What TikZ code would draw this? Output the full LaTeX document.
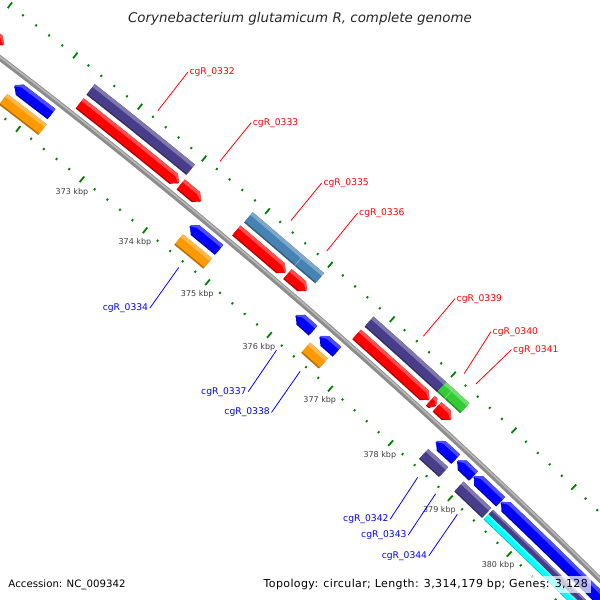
\documentclass[tikz,border=0pt]{standalone}
\usepackage{fontspec}
\setmainfont{DejaVu Sans}[ItalicFont={DejaVu Sans Oblique}]
\usetikzlibrary{positioning}

\definecolor{cgred}{RGB}{255,0,0}
\definecolor{cgblue}{RGB}{0,0,255}
\definecolor{cgpurple}{RGB}{72,61,139}
\definecolor{cgsteel}{RGB}{70,130,180}
\definecolor{cgorange}{RGB}{255,153,0}
\definecolor{cggreen}{RGB}{50,205,50}
\definecolor{cgcyan}{RGB}{0,255,255}
\definecolor{tickgreen}{RGB}{0,128,0}
\definecolor{bbgray}{RGB}{140,140,140}
\definecolor{bblight}{RGB}{185,185,185}
\definecolor{kbpgray}{RGB}{60,60,60}

% angle of a map position given in kbp
\newcommand{\kang}[1]{51.39-0.7614*(#1-373)}

% one filled shape: colour, kind (0 box, 1 forward, 2 reverse), inner r, outer r
\newcommand{\fshape}[4]{%
  \pgfmathsetmacro\rM{(#3+#4)/2}%
  \ifcase#2\relax
    \fill[#1] (\aS:#3) -- (\aS:#4) arc[start angle=\aS,end angle=\aE,radius=#4]
      -- (\aE:#3) arc[start angle=\aE,end angle=\aS,radius=#3] -- cycle;
  \or
    \fill[#1] (\aS:#3) -- (\aS:#4) arc[start angle=\aS,end angle=\aH,radius=#4]
      -- (\aE:\rM) -- (\aH:#3) arc[start angle=\aH,end angle=\aS,radius=#3] -- cycle;
  \or
    \fill[#1] (\aS:\rM) -- (\aH:#4) arc[start angle=\aH,end angle=\aE,radius=#4]
      -- (\aE:#3) arc[start angle=\aE,end angle=\aH,radius=#3] -- cycle;
  \fi}

% a feature: kind, from, to (kbp), inner and outer offset from the backbone, colour
\newcommand{\feat}[6]{%
  \pgfmathsetmacro\aS{\kang{#2}}%
  \pgfmathsetmacro\aE{\kang{#3}}%
  \pgfmathsetmacro\hd{min(0.06,(\aS-\aE)*0.5)}%
  \ifnum#1=1 \pgfmathsetmacro\aH{\aE+\hd}\else\pgfmathsetmacro\aH{\aS-\hd}\fi
  \pgfmathsetmacro\rI{6157+(#4)}%
  \pgfmathsetmacro\rO{6157+(#5)}%
  \pgfmathsetmacro\rA{\rI+0.14*(\rO-\rI)}%
  \pgfmathsetmacro\rB{\rO-0.28*(\rO-\rI)}%
  \fshape{#6!72!black}{#1}{\rI}{\rO}%
  \fshape{#6!70!white}{#1}{\rA}{\rO}%
  \fshape{#6}{#1}{\rA}{\rB}}

\begin{document}
\begin{tikzpicture}[x=1pt,y=1pt,
  tickmark/.style={draw=tickgreen, line width=1.8pt},
  seam/.style={line width=0.6pt},
  kbplabel/.style={font=\fontsize{8}{8}\selectfont, text=kbpgray, inner sep=0pt},
  fwdlabel/.style={font=\fontsize{9.2}{9.2}\selectfont, text=cgred, inner sep=1.5pt, anchor=base west},
  revlabel/.style={font=\fontsize{9.2}{9.2}\selectfont, text=cgblue, inner sep=1.5pt, anchor=base east},
  fwdleader/.style={draw=cgred, line width=0.8pt},
  revleader/.style={draw=cgblue, line width=0.8pt},
  info/.style={inner sep=0pt}]
\useasboundingbox (0,0) rectangle (600,-600);
\clip (0,0) rectangle (600,-600);

\begin{scope}[shift={(-3731.8,-4955)}]
  % backbone
  \draw[line width=5.5pt, draw=bbgray] (53.8:6157) arc[start angle=53.8,end angle=44,radius=6157];
  \draw[line width=1.6pt, draw=bblight] (53.8:6158) arc[start angle=53.8,end angle=44,radius=6158];
  % ticks, every 200 bp
  \foreach \i in {1852,...,1912}{%
    \pgfmathsetmacro\a{\kang{\i/5}}%
    \pgfmathsetmacro\h{mod(\i,5)==0 ? 3.6 : 1.1}%
    \pgfmathsetmacro\ra{6205-\h}\pgfmathsetmacro\rb{6205+\h}%
    \pgfmathsetmacro\rc{6112-\h}\pgfmathsetmacro\rd{6112+\h}%
    \draw[tickmark] (\a:\ra) -- (\a:\rb);
    \draw[tickmark] (\a:\rc) -- (\a:\rd);
  }
  % forward strand
  \feat{1}{369.5}{371.23}{6.5}{19.5}{cgred}
  \feat{1}{372.40}{373.95}{6.5}{19.5}{cgred}
  \feat{1}{373.98}{374.30}{6.5}{19.5}{cgred}
  \feat{1}{374.86}{375.65}{6.5}{19.5}{cgred}
  \feat{1}{375.68}{375.99}{6.5}{19.5}{cgred}
  \feat{1}{376.80}{377.99}{6.5}{19.5}{cgred}
  \feat{1}{378.01}{378.10}{6.5}{19.5}{cgred}
  \feat{1}{378.12}{378.35}{6.5}{19.5}{cgred}
  \feat{0}{372.40}{373.96}{24}{37.5}{cgpurple}
  \feat{0}{374.87}{375.68}{24}{37.5}{cgsteel}
  \feat{0}{375.68}{376.01}{24}{37.5}{cgsteel}
  \feat{0}{376.81}{378.00}{24}{37.5}{cgpurple}
  \feat{0}{378.00}{378.12}{24}{37.5}{cggreen}
  \feat{0}{378.12}{378.38}{24}{37.5}{cggreen}
  \pgfmathsetmacro\a{\kang{375.68}}
  \draw[seam, cgsteel!60!white] (\a:6181) -- (\a:6194.5);
  \pgfmathsetmacro\a{\kang{378.12}}
  \draw[seam, cggreen!60!white] (\a:6181) -- (\a:6194.5);
  % reverse strand
  \feat{2}{371.64}{372.21}{-19.5}{-6.5}{cgblue}
  \feat{2}{374.39}{374.85}{-19.5}{-6.5}{cgblue}
  \feat{2}{376.09}{376.37}{-19.5}{-6.5}{cgblue}
  \feat{2}{376.48}{376.76}{-19.5}{-6.5}{cgblue}
  \feat{2}{378.40}{378.72}{-19.5}{-6.5}{cgblue}
  \feat{2}{378.75}{379.02}{-19.5}{-6.5}{cgblue}
  \feat{2}{379.03}{379.48}{-19.5}{-6.5}{cgblue}
  \feat{2}{379.49}{382.5}{-19.5}{-6.5}{cgblue}
  \feat{0}{371.63}{372.24}{-37.5}{-24}{cgorange}
  \feat{0}{374.39}{374.85}{-37.5}{-24}{cgorange}
  \feat{0}{376.44}{376.73}{-37.5}{-24}{cgorange}
  \feat{0}{378.39}{378.72}{-37.5}{-24}{cgpurple}
  \feat{0}{378.98}{379.45}{-37.5}{-24}{cgpurple}
  \feat{0}{379.48}{382.5}{-30.5}{-24}{cgpurple}
  \feat{0}{379.48}{382.5}{-37.5}{-30.5}{cgcyan}
  % kbp labels
  \foreach \k in {373,...,380}
    \node[kbplabel] (kbp\k) at ({\kang{\k}}:6096) {\k\ kbp};
  % leader ends
  \coordinate (g0332) at ({\kang{373.20}}:6213);
  \coordinate (g0333) at ({\kang{374.17}}:6213);
  \coordinate (g0335) at ({\kang{375.29}}:6213);
  \coordinate (g0336) at ({\kang{375.86}}:6213);
  \coordinate (g0339) at ({\kang{377.42}}:6213);
  \coordinate (g0340) at ({\kang{378.09}}:6213);
  \coordinate (g0341) at ({\kang{378.28}}:6213);
  \coordinate (g0334) at ({\kang{374.61}}:6105);
  \coordinate (g0337) at ({\kang{376.19}}:6105);
  \coordinate (g0338) at ({\kang{376.58}}:6105);
  \coordinate (g0342) at ({\kang{378.53}}:6105);
  \coordinate (g0343) at ({\kang{378.83}}:6105);
  \coordinate (g0344) at ({\kang{379.20}}:6105);
\end{scope}

% gene labels
\node[fwdlabel] (l0332) at (187.8,-74.5) {cgR\_0332};
\node[fwdlabel] (l0333) at (251.2,-125) {cgR\_0333};
\node[fwdlabel] (l0335) at (321.8,-185.2) {cgR\_0335};
\node[fwdlabel] (l0336) at (357.5,-215.5) {cgR\_0336};
\node[fwdlabel] (l0339) at (455,-301) {cgR\_0339};
\node[fwdlabel] (l0340) at (491,-334) {cgR\_0340};
\node[fwdlabel] (l0341) at (511.5,-352) {cgR\_0341};
\node[revlabel] (l0334) at (149.8,-310.5) {cgR\_0334};
\node[revlabel] (l0337) at (248.2,-394) {cgR\_0337};
\node[revlabel] (l0338) at (271.5,-414.8) {cgR\_0338};
\node[revlabel] (l0342) at (390.2,-521.5) {cgR\_0342};
\node[revlabel] (l0343) at (408.2,-537.5) {cgR\_0343};
\node[revlabel] (l0344) at (428.8,-558.2) {cgR\_0344};
\foreach \g in {0332,0333,0335,0336,0339,0340,0341}
  \draw[fwdleader] (l\g.west) -- (g\g);
\foreach \g in {0334,0337,0338,0342,0343,0344}
  \draw[revleader] (l\g.east) -- (g\g);

% title and footer
\node[font=\fontsize{13.4}{13.4}\selectfont\itshape, text=black!85, anchor=base] (title)
  at (300,-22.7) {Corynebacterium glutamicum R, complete genome};
\node[info, font=\fontsize{10.2}{10.2}\selectfont, anchor=base west] (accession)
  at (8.3,-587.3) {Accession: NC\_009342};
\node[info, font=\fontsize{11}{11}\selectfont\addfontfeature{LetterSpace=3.5}, anchor=base east,
  fill=white, fill opacity=0.7, text opacity=1, inner sep=3pt] (topology)
  at (591,-587.3) {Topology: circular; Length: 3,314,179 bp; Genes: 3,128};
\end{tikzpicture}
\end{document}
